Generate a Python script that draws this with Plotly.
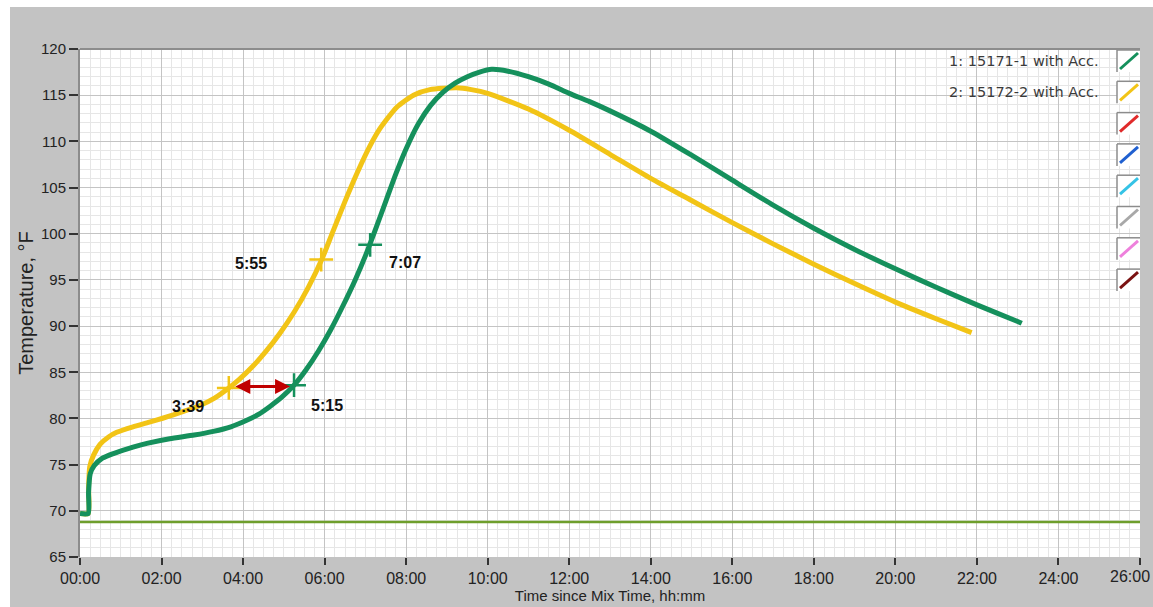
import plotly.graph_objects as go

# ---------------- data ----------------
series_names = ["1: 15171-1 with Acc.", "2: 15172-2 with Acc."]
series_colors = ["#15905c", "#f2c416"]

green_hours = [0.00, 0.20, 0.21, 0.25, 0.35, 0.55, 0.82, 1.30, 1.64, 2.20, 2.80, 3.27, 3.70,
               4.09, 4.40, 4.66, 4.95, 5.25, 5.55, 5.85, 6.15, 6.45, 6.75, 7.00, 7.25, 7.50,
               7.75, 8.00, 8.30, 8.60, 8.90, 9.20, 9.50, 9.80, 10.10, 10.50, 11.00, 11.50,
               12.00, 12.50, 13.00, 14.00, 15.00, 16.00, 17.00, 18.00, 19.00, 20.00, 21.00, 22.00,
               23.00, 23.10]
green_temps = [69.7, 69.7, 72.0, 74.0, 74.9, 75.7, 76.2, 76.9, 77.3, 77.8, 78.2, 78.6, 79.1,
               79.8, 80.5, 81.3, 82.3, 83.6, 85.3, 87.3, 89.6, 92.2, 95.0, 97.6, 100.5, 103.5,
               106.5, 109.2, 111.9, 113.9, 115.3, 116.3, 117.0, 117.5, 117.8, 117.6, 117.0, 116.2,
               115.2, 114.3, 113.3, 111.1, 108.5, 105.8, 103.1, 100.6, 98.3, 96.2, 94.2, 92.3,
               90.5, 90.3]

yellow_hours = [0.00, 0.20, 0.21, 0.24, 0.33, 0.49, 0.70, 0.90, 1.30, 1.70, 2.29, 2.94, 3.30,
                3.65, 3.90, 4.25, 4.55, 4.90, 5.25, 5.60, 5.93, 6.20, 6.50, 6.80, 7.10, 7.36,
                7.77, 8.18, 8.58, 9.24, 9.60, 10.00, 11.00, 12.00, 13.00, 14.00, 15.00, 16.00,
                17.00, 18.00, 19.00, 20.00, 21.00, 21.87]
yellow_temps = [69.7, 69.7, 72.5, 74.8, 76.0, 77.2, 78.0, 78.5, 79.1, 79.6, 80.4, 81.4, 82.2,
                83.3, 84.2, 85.7, 87.2, 89.2, 91.5, 94.2, 97.2, 100.2, 103.5, 106.6, 109.4, 111.4,
                113.7, 115.0, 115.6, 115.8, 115.6, 115.2, 113.5, 111.2, 108.6, 106.0, 103.6, 101.2,
                98.9, 96.7, 94.6, 92.6, 90.8, 89.3]

ref_hours = [0, 26]
ref_temps = [68.8, 68.8]
ref_color = "#6e9e2c"

yellow_mark_hours = [3.65, 5.917]
yellow_mark_temps = [83.3, 97.2]
yellow_mark_labels = ["3:39", "5:55"]
green_mark_hours = [5.25, 7.117]
green_mark_temps = [83.6, 98.8]
green_mark_labels = ["5:15", "7:07"]

x_tick_vals = list(range(0, 27, 2))
x_tick_text = ["%02d:00" % v for v in x_tick_vals]
y_tick_vals = list(range(65, 121, 5))

extra_legend_colors = ["#e02a2a", "#2060d0", "#35c3e6", "#a8a8a8", "#ee80dc", "#7a1212"]

# ---------------- layout geometry ----------------
W, H = 1153, 607
ML, MR, MT, MB = 80, 13, 49, 50
PW, PH = W - ML - MR, H - MT - MB


def px(xp):
    return (xp - ML) / PW


def py(yp):
    return (H - MB - yp) / PH


fig = go.Figure()

fig.add_trace(go.Scatter(x=ref_hours, y=ref_temps, mode="lines",
                         line=dict(color=ref_color, width=2.5), showlegend=False,
                         hoverinfo="skip"))
fig.add_trace(go.Scatter(x=yellow_hours, y=yellow_temps, mode="lines", name=series_names[1],
                         line=dict(color=series_colors[1], width=5, shape="spline", smoothing=0.6),
                         showlegend=False))
fig.add_trace(go.Scatter(x=green_hours, y=green_temps, mode="lines", name=series_names[0],
                         line=dict(color=series_colors[0], width=5, shape="spline", smoothing=0.6),
                         showlegend=False))
fig.add_trace(go.Scatter(x=yellow_mark_hours, y=yellow_mark_temps, mode="markers",
                         marker=dict(symbol="cross-thin", size=17,
                                     line=dict(color=series_colors[1], width=2.5)),
                         showlegend=False))
fig.add_trace(go.Scatter(x=green_mark_hours, y=green_mark_temps, mode="markers",
                         marker=dict(symbol="cross-thin", size=17,
                                     line=dict(color=series_colors[0], width=2.5)),
                         showlegend=False))

annotations = []
label_font = dict(family="Liberation Sans", size=16, color="#111111")
shifts_y = [(-41, -19), (-70, -4)]
shifts_g = [(33, -20), (35, -18)]
for h, t, lab, (dx, dy) in zip(yellow_mark_hours, yellow_mark_temps, yellow_mark_labels, shifts_y):
    annotations.append(dict(x=h, y=t, text="<b>%s</b>" % lab, showarrow=False, xshift=dx, yshift=dy,
                            font=label_font))
for h, t, lab, (dx, dy) in zip(green_mark_hours, green_mark_temps, green_mark_labels, shifts_g):
    annotations.append(dict(x=h, y=t, text="<b>%s</b>" % lab, showarrow=False, xshift=dx, yshift=dy,
                            font=label_font))

# double-headed arrow between the two crossing markers
arrow_y = (yellow_mark_temps[0] + green_mark_temps[0]) / 2
annotations.append(dict(x=green_mark_hours[0], y=arrow_y, ax=yellow_mark_hours[0], ay=arrow_y,
                        xref="x", yref="y", axref="x", ayref="y", text="", showarrow=True,
                        arrowhead=2, startarrowhead=2, arrowside="end+start", arrowsize=1,
                        arrowwidth=3, arrowcolor="#c00000", standoff=4, startstandoff=5))

tick_font = dict(family="Liberation Sans", size=16, color="#222222")

# last x tick label, kept inside the window's right edge
annotations.append(dict(x=px(W - 1), y=0, xref="paper", yref="paper", xanchor="right", yanchor="top",
                        text=x_tick_text[-1], showarrow=False, yshift=-9, font=tick_font))
x_tick_text_axis = x_tick_text[:-1] + [""]

# manual legend (text on the left, swatch box on the right)
shapes = []
row0, row_step = 61, 31.3
for i in range(8):
    cy = row0 + i * row_step
    x0, x1 = 1117, 1140
    shapes.append(dict(type="rect", xref="paper", yref="paper", x0=px(x0), x1=px(x1),
                       y0=py(cy + 11), y1=py(cy - 11), fillcolor="white",
                       line=dict(width=0), layer="above"))
    shapes.append(dict(type="line", xref="paper", yref="paper", x0=px(x0), x1=px(x0),
                       y0=py(cy + 11), y1=py(cy - 11), line=dict(color="#8c8c8c", width=1.5), layer="above"))
    shapes.append(dict(type="line", xref="paper", yref="paper", x0=px(x0), x1=px(x1),
                       y0=py(cy - 11), y1=py(cy - 11), line=dict(color="#8c8c8c", width=1.5), layer="above"))
    col = series_colors[i] if i < 2 else extra_legend_colors[i - 2]
    shapes.append(dict(type="line", xref="paper", yref="paper", x0=px(x0 + 3), x1=px(x1 - 2),
                       y0=py(cy + 8), y1=py(cy - 8), line=dict(color=col, width=3), layer="above"))
    if i < 2:
        annotations.append(dict(xref="paper", yref="paper", x=px(1101), y=py(cy),
                                xanchor="right", yanchor="middle", showarrow=False,
                                text=series_names[i],
                                font=dict(family="DejaVu Sans", size=14.5, color="#3a3a3a")))

# top border of the plot frame
shapes.append(dict(type="line", xref="paper", yref="paper", x0=0, x1=1, y0=1, y1=1,
                   line=dict(color="#8c8c8c", width=2), layer="above"))
# white outer strips of the screenshot
shapes.append(dict(type="rect", xref="paper", yref="paper", x0=px(0), x1=px(10), y0=py(H), y1=py(0),
                   fillcolor="white", line=dict(width=0), layer="below"))
shapes.append(dict(type="rect", xref="paper", yref="paper", x0=px(0), x1=px(W), y0=py(7), y1=py(0),
                   fillcolor="white", line=dict(width=0), layer="below"))

fig.update_layout(
    width=W, height=H,
    margin=dict(l=ML, r=MR, t=MT, b=MB, autoexpand=False),
    paper_bgcolor="#c3c3c3",
    plot_bgcolor="white",
    showlegend=False,
    annotations=annotations,
    shapes=shapes,
    xaxis=dict(range=[0, 26], tickvals=x_tick_vals, ticktext=x_tick_text_axis,
               ticks="outside", ticklen=7, tickwidth=1.5, tickcolor="#333333",
               showgrid=True, gridcolor="#c4c4c4", gridwidth=1,
               minor=dict(dtick=0.25, showgrid=True, gridcolor="#e6e6e6", gridwidth=1, ticks=""),
               zeroline=False, showline=False, tickfont=tick_font,
               title=dict(text="Time since Mix Time, hh:mm", standoff=2,
                          font=dict(family="Liberation Sans", size=15, color="#222222")),
               automargin=False),
    yaxis=dict(range=[65, 120], tickvals=y_tick_vals,
               ticks="outside", ticklen=9, tickwidth=1.5, tickcolor="#333333",
               showgrid=True, gridcolor="#c4c4c4", gridwidth=1,
               minor=dict(dtick=1, showgrid=True, gridcolor="#e6e6e6", gridwidth=1, ticks=""),
               zeroline=False, showline=True, linecolor="#8c8c8c", linewidth=2,
               tickfont=dict(family="Liberation Sans", size=15, color="#222222"),
               title=dict(text="Temperature, °F", standoff=2,
                          font=dict(family="Liberation Sans", size=20, color="#222222")),
               automargin=False),
)

fig.write_html("out.html")
